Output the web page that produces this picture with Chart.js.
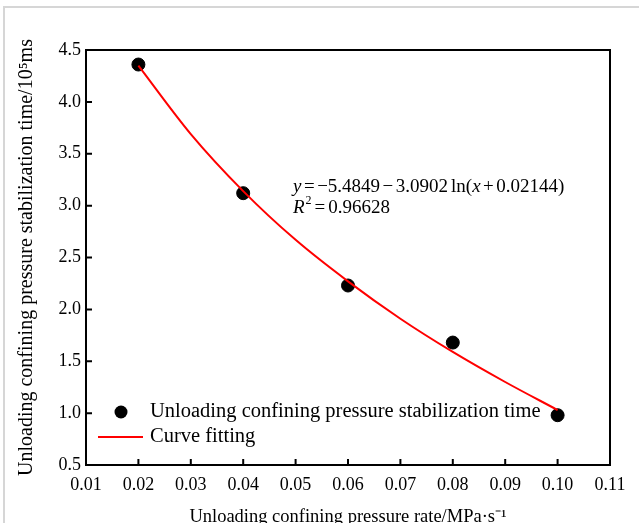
<!DOCTYPE html>
<html lang="en">
<head>
  <meta charset="UTF-8" />
  <title>Unloading rate vs stabilization time</title>
  <style>
    html, body { margin: 0; padding: 0; background: #fff; }
  </style>
</head>
<body>
  <canvas id="chart" width="639" height="523"></canvas>
  <script src="https://cdn.jsdelivr.net/npm/chart.js@4/dist/chart.umd.min.js"></script>
  <script>
// measured points
const rates = [0.02, 0.04, 0.06, 0.08, 0.10]
const stabTimes = [4.36, 3.12, 2.23, 1.68, 0.98]

// fitted curve
const fitX = [0.02, 0.03, 0.04, 0.05, 0.06, 0.07, 0.08, 0.09, 0.10]
const fitY = [4.35, 3.69, 3.14, 2.67, 2.27, 1.91, 1.59, 1.30, 1.03]

const xTicks = [0.01, 0.02, 0.03, 0.04, 0.05, 0.06, 0.07, 0.08, 0.09, 0.10, 0.11]
const yTicks = [0.5, 1.0, 1.5, 2.0, 2.5, 3.0, 3.5, 4.0, 4.5]

const serif = '"Liberation Serif", "Times New Roman", serif'

// draws the page frame, boxed axes with inward ticks, legend and the equation
const decorPlugin = {
  id: 'decor',
  beforeDraw(chart) {
    const ctx = chart.ctx
    ctx.save()
    ctx.fillStyle = '#fff'
    ctx.fillRect(0, 0, chart.width, chart.height)
    ctx.strokeStyle = '#d6d6d6'
    ctx.lineWidth = 2
    ctx.beginPath()
    ctx.moveTo(4, chart.height)
    ctx.lineTo(4, 7)
    ctx.lineTo(chart.width, 7)
    ctx.stroke()
    ctx.restore()
  },
  afterDraw(chart) {
    const { ctx, chartArea: a } = chart
    const x = chart.scales.x
    const y = chart.scales.y
    ctx.save()
    ctx.strokeStyle = '#000'
    ctx.lineWidth = 2
    ctx.strokeRect(a.left, a.top, a.right - a.left, a.bottom - a.top)
    ctx.beginPath()
    xTicks.forEach(v => {
      const px = x.getPixelForValue(v)
      ctx.moveTo(px, a.bottom)
      ctx.lineTo(px, a.bottom - 6)
    })
    yTicks.forEach(v => {
      const py = y.getPixelForValue(v)
      ctx.moveTo(a.left, py)
      ctx.lineTo(a.left + 6, py)
    })
    ctx.stroke()

    // legend (bottom-left inside the plot)
    const ds = chart.data.datasets
    ctx.textBaseline = 'middle'
    ctx.textAlign = 'left'
    ctx.font = '20.5px ' + serif
    ctx.fillStyle = '#000'
    const ly1 = a.bottom - 53
    const ly2 = a.bottom - 28
    ctx.beginPath()
    ctx.arc(a.left + 35, ly1, 6.5, 0, Math.PI * 2)
    ctx.fillStyle = ds[1].backgroundColor
    ctx.fill()
    ctx.fillStyle = '#000'
    ctx.fillText(ds[1].label, a.left + 64, ly1)
    ctx.beginPath()
    ctx.strokeStyle = ds[0].borderColor
    ctx.lineWidth = 2
    ctx.moveTo(a.left + 12, ly2)
    ctx.lineTo(a.left + 57, ly2)
    ctx.stroke()
    ctx.fillText(ds[0].label, a.left + 64, ly2)

    // fitted equation, tight math spacing
    const ex = x.getPixelForValue(0.0495)
    const ey1 = y.getPixelForValue(3.12) - 1
    const ey2 = y.getPixelForValue(2.93)
    const put = (txt, style, px, py) => {
      ctx.font = style + serif
      ctx.fillText(txt, px, py)
      return px + ctx.measureText(txt).width
    }
    ctx.textBaseline = 'alphabetic'
    const g = 2.5
    let cx = ex
    cx = put('y', 'italic 19px ', cx, ey1)
    cx = put('=', '19px ', cx + g, ey1)
    cx = put('\u22125.4849', '19px ', cx + g, ey1)
    cx = put('\u2212', '19px ', cx + g, ey1)
    cx = put('3.0902', '19px ', cx + g, ey1)
    cx = put('ln(', '19px ', cx + 3, ey1)
    cx = put('x', 'italic 19px ', cx, ey1)
    cx = put('+', '19px ', cx + g, ey1)
    put('0.02144)', '19px ', cx + g, ey1)
    cx = put('R', 'italic 19px ', ex, ey2)
    cx = put('2', '12px ', cx + 1, ey2 - 9)
    cx = put('=', '19px ', cx + 3, ey2)
    put('0.96628', '19px ', cx + 3, ey2)
    ctx.restore()
  }
}

new Chart(document.getElementById('chart'), {
  type: 'scatter',
  data: {
    datasets: [
      {
        type: 'line',
        label: 'Curve fitting',
        data: fitX.map((v, i) => ({ x: v, y: fitY[i] })),
        borderColor: '#ff0000',
        borderWidth: 2,
        pointRadius: 0,
        fill: false,
        cubicInterpolationMode: 'monotone',
        order: 0
      },
      {
        label: 'Unloading confining pressure stabilization time',
        data: rates.map((v, i) => ({ x: v, y: stabTimes[i] })),
        backgroundColor: '#000',
        borderColor: '#000',
        pointRadius: 6.5,
        order: 1
      }
    ]
  },
  options: {
    responsive: false,
    animation: false,
    layout: { padding: { left: 0, top: 50, right: 29, bottom: 0 } },
    plugins: {
      legend: { display: false },
      tooltip: { enabled: false }
    },
    scales: {
      x: {
        type: 'linear',
        min: 0.01,
        max: 0.11,
        afterBuildTicks: s => { s.ticks = xTicks.map(v => ({ value: v })) },
        afterFit: s => { s.height = 58 },
        grid: { display: false, drawTicks: false },
        border: { display: false },
        ticks: {
          padding: 9,
          color: '#000',
          font: { family: serif, size: 18 },
          callback: v => v.toFixed(2)
        },
        title: {
          display: true,
          text: 'Unloading confining pressure rate/MPa\u00b7s\u207b\u00b9',
          color: '#000',
          font: { family: serif, size: 18.5 },
          padding: { top: 0, bottom: -5 }
        }
      },
      y: {
        type: 'linear',
        min: 0.5,
        max: 4.5,
        afterBuildTicks: s => { s.ticks = yTicks.map(v => ({ value: v })) },
        afterFit: s => { s.width = 86 },
        grid: { display: false, drawTicks: false },
        border: { display: false },
        ticks: {
          padding: 5,
          color: '#000',
          font: { family: serif, size: 18 },
          callback: v => v.toFixed(1)
        },
        title: {
          display: true,
          text: 'Unloading confining pressure stabilization time/10\u2075ms',
          color: '#000',
          font: { family: serif, size: 20 },
          padding: { top: 15, bottom: 4 }
        }
      }
    }
  },
  plugins: [decorPlugin]
})
  </script>
</body>
</html>
